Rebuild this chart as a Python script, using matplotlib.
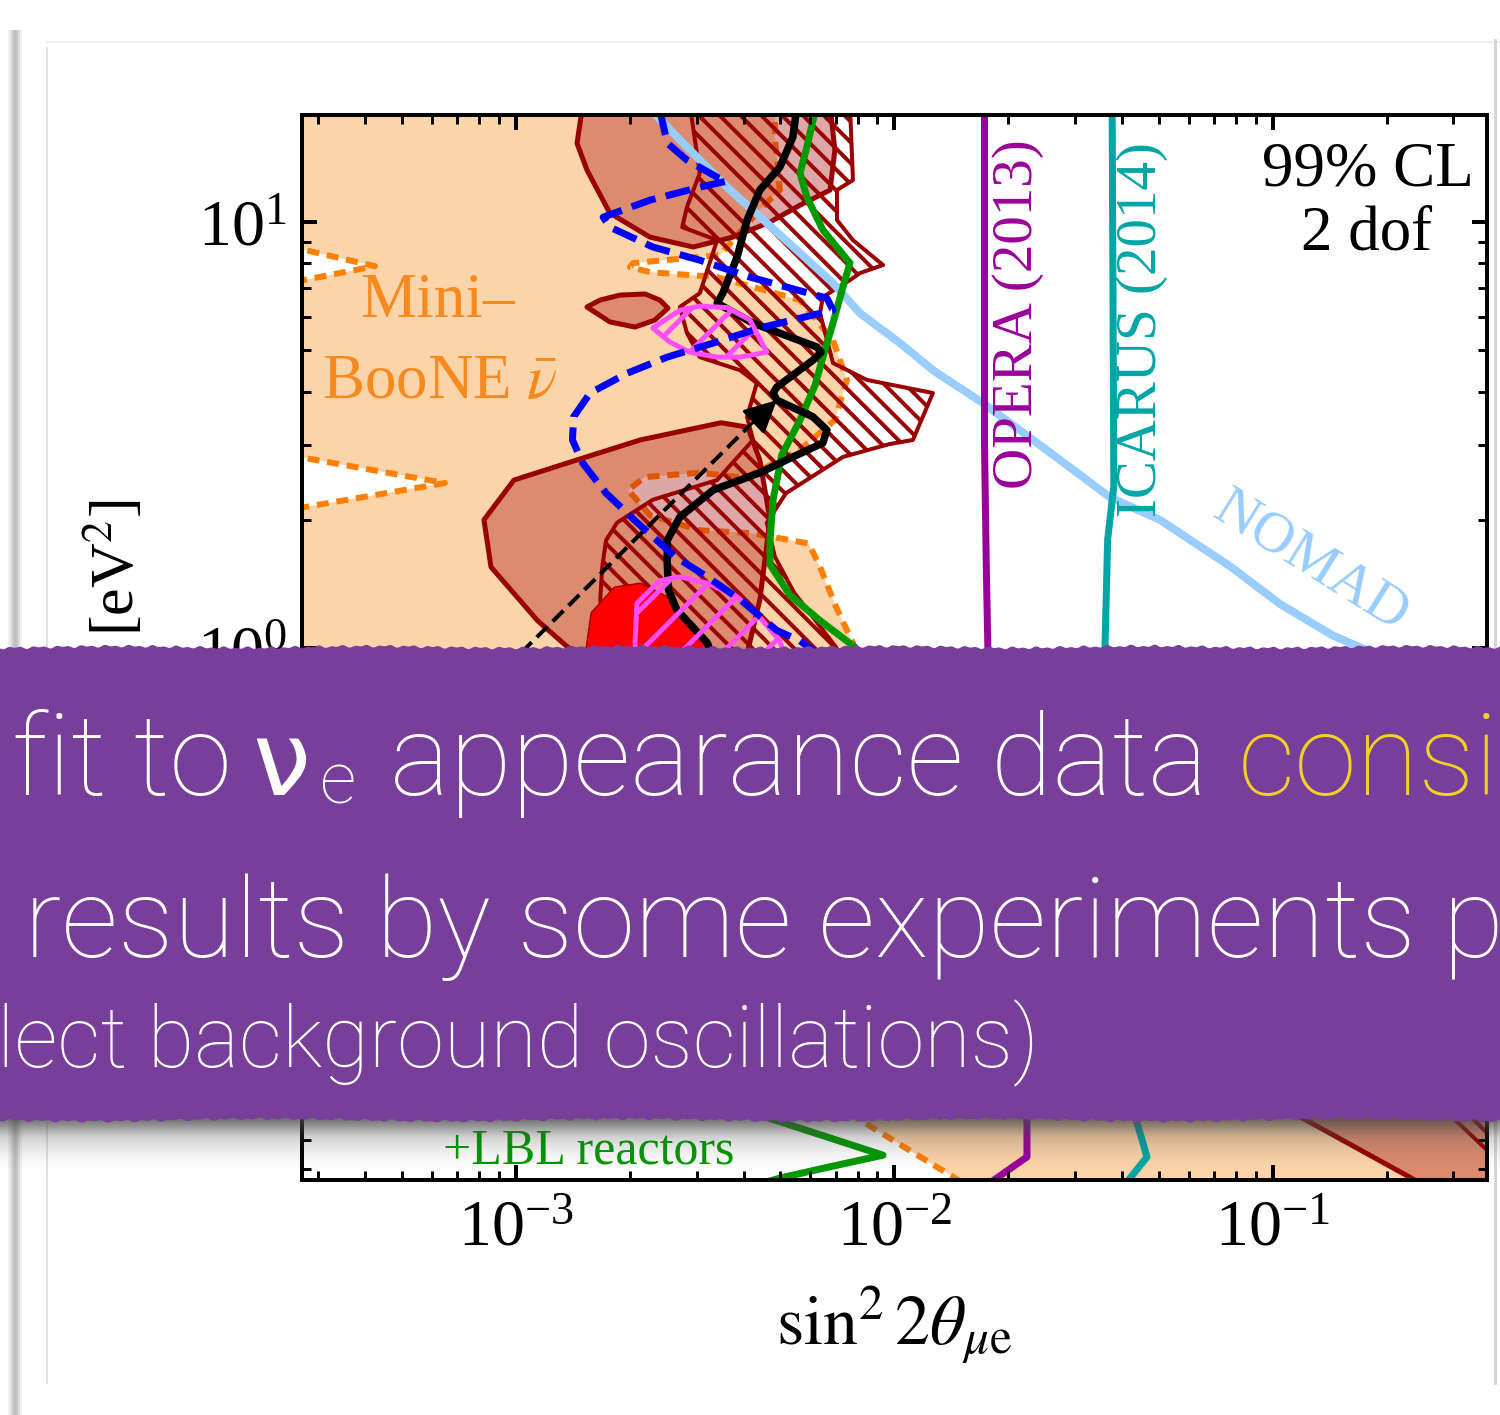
import numpy as np
import matplotlib
matplotlib.use("Agg")
import matplotlib.pyplot as plt
from matplotlib.patches import Polygon
from matplotlib.ticker import LogLocator, NullFormatter, FuncFormatter

DPI = 125
W, H = 1500, 1415


def pt(px):
    # sizes in pixels
    return px * 72.0 / DPI


ORANGE_FILL = "#FCD4A9"
ORANGE = "#FF8000"
DARK_RED = "#990000"
RED = "#FF0000"
PINK = "#FF4DFF"
BLUE = "#0000FF"
GREEN = "#009900"
NOMAD_C = "#99CCFF"
OPERA_C = "#990099"
ICARUS_C = "#00A5A5"
BANNER = "#773F99"
YELLOW = "#F3D027"

# ---- contours, (sin^2 2theta_mue, dm2_41 [eV^2]) ----
mb_sin2 = [2.5e-4, 4.83e-3, 4.83e-3, 4.98e-3, 4.41e-3, 3.46e-3, 2.04e-3, 2.0e-3, 2.26e-3, 3.40e-3,
           5.63e-3, 6.88e-3, 7.49e-3, 6.96e-3, 5.63e-3, 4.03e-3, 3.06e-3, 2.19e-3, 1.98e-3, 2.26e-3,
           3.06e-3, 4.20e-3, 5.94e-3, 6.36e-3, 7.01e-3, 7.86e-3, 1.1e-2, 2.0e-2, 5.0e-2, 0.4,
           0.4, 1.63e-2, 8.11e-3, 5.0e-3, 2.0e-3, 7.0e-4, 2.5e-4]
mb_dm2 = [20, 20, 15.8, 11.9, 10.7, 8.37, 8.01, 7.84, 7.63, 7.43,
          6.56, 5.28, 4.26, 3.43, 2.92, 2.51, 2.58, 2.52, 2.35, 2.05,
          1.89, 1.86, 1.76, 1.55, 1.25, 1.005, 0.65, 0.35, 0.22, 0.15,
          0.05, 0.0534, 0.078, 0.11, 0.2, 0.3, 0.4]

hole_a_sin2 = [2.5e-4, 4.24e-4, 2.5e-4]
hole_a_dm2 = [8.78, 7.88, 7.19]
hole_b_sin2 = [2.5e-4, 6.49e-4, 2.5e-4]
hole_b_dm2 = [2.84, 2.44, 2.11]

blob_top_sin2 = [1.50e-3, 1.45e-3, 1.54e-3, 1.77e-3, 2.26e-3, 2.94e-3, 3.74e-3, 4.69e-3, 5.63e-3, 6.76e-3, 6.96e-3, 6.76e-3]
blob_top_dm2 = [18.8, 15.3, 13.25, 10.5, 9.22, 8.74, 9.22, 10.0, 10.96, 11.89, 14.76, 18.8]

blob_leaf_sin2 = [1.54e-3, 1.667e-3, 1.883e-3, 2.193e-3, 2.40e-3, 2.521e-3, 2.329e-3, 2.063e-3, 1.771e-3]
blob_leaf_dm2 = [6.32, 6.56, 6.74, 6.78, 6.56, 6.28, 5.89, 5.67, 5.83]

blob_low_sin2 = [8.23e-4, 9.88e-4, 1.44e-3, 2.13e-3, 3.48e-3, 4.10e-3, 4.41e-3, 4.69e-3, 4.41e-3,
                 4.0e-3, 3.0e-3, 2.0e-3, 1.37e-3, 1.14e-3, 8.59e-4]
blob_low_dm2 = [2.00, 2.48, 2.76, 3.08, 3.38, 3.30, 2.76, 2.00, 1.30,
                0.9, 0.7, 0.8, 1.005, 1.16, 1.55]

blob_corner_sin2 = [0.0641, 0.1252, 0.2373, 0.27, 0.5, 0.5, 0.1]
blob_corner_dm2 = [0.1067, 0.0771, 0.0564, 0.05, 0.05, 0.2, 0.2]

hatch_sin2 = [2.88e-3, 7.63e-3, 7.77e-3, 7.05e-3, 7.05e-3, 7.77e-3, 9.33e-3, 8.11e-3, 7.63e-3, 6.47e-3,
              6.36e-3, 6.88e-3, 8.46e-3, 1.264e-2, 1.119e-2, 9.67e-3, 7.31e-3, 5.17e-3, 4.60e-3, 4.83e-3,
              5.43e-3, 7.01e-3, 8.0e-3, 7.0e-3, 5.0e-3, 3.0e-3, 2.0e-3, 1.72e-3, 1.67e-3, 1.69e-3,
              1.73e-3, 1.85e-3, 2.30e-3, 3.40e-3, 4.23e-3, 4.08e-3, 4.33e-3, 3.91e-3, 3.06e-3, 2.83e-3,
              2.71e-3, 3.06e-3, 3.40e-3, 2.75e-3, 2.83e-3, 3.06e-3]
hatch_dm2 = [18.8, 18.8, 12.55, 11.89, 10.11, 9.07, 7.93, 7.59, 7.31, 6.67,
             6.11, 4.67, 4.26, 3.97, 3.08, 3.01, 2.81, 2.31, 1.97, 1.64,
             1.35, 1.005, 0.8, 0.6, 0.55, 0.6, 0.8, 1.016, 1.30, 1.55,
             1.79, 1.97, 2.23, 2.48, 3.08, 3.49, 4.19, 4.49, 4.82, 5.49,
             6.32, 6.81, 9.07, 9.73, 10.85, 13.03]

hatch_corner_sin2 = [0.2848, 0.368, 0.5, 0.5, 0.25]
hatch_corner_dm2 = [0.0823, 0.0663, 0.066, 0.2, 0.2]

red_sin2 = [1.52e-3, 1.58e-3, 1.82e-3, 2.13e-3, 2.6e-3, 3.2e-3, 2.8e-3, 1.8e-3]
red_dm2 = [0.95, 1.21, 1.39, 1.42, 1.3, 1.0, 0.75, 0.75]

pink_top_sin2 = [2.30e-3, 2.71e-3, 3.06e-3, 3.61e-3, 4.15e-3, 4.60e-3, 3.91e-3, 3.40e-3, 2.88e-3, 2.55e-3]
pink_top_dm2 = [5.64, 6.21, 6.35, 6.30, 5.89, 4.95, 4.82, 4.82, 4.95, 5.23]
pink_low_sin2 = [2.063e-3, 2.088e-3, 2.40e-3, 2.71e-3, 3.20e-3, 3.84e-3, 4.41e-3, 4.98e-3, 5.3e-3, 4.2e-3, 2.8e-3, 2.1e-3]
pink_low_dm2 = [1.03, 1.275, 1.44, 1.47, 1.42, 1.32, 1.18, 1.04, 0.85, 0.68, 0.7, 0.85]

blue_sin2 = [2.40e-3, 2.51e-3, 2.83e-3, 3.40e-3, 3.61e-3, 3.06e-3, 2.26e-3, 1.70e-3, 1.77e-3, 2.30e-3,
             3.06e-3, 4.15e-3, 6.63e-3, 6.88e-3, 5.63e-3, 4.41e-3, 3.32e-3, 2.51e-3, 1.97e-3, 1.57e-3,
             1.42e-3, 1.41e-3, 1.50e-3, 1.73e-3, 2.09e-3, 2.63e-3, 3.20e-3, 3.91e-3, 4.89e-3, 5.63e-3,
             7.0e-3, 8.0e-3]
blue_dm2 = [18.3, 15.33, 13.98, 12.75, 12.48, 12.08, 11.26, 10.27, 9.73, 8.74,
            8.14, 7.43, 6.63, 6.21, 5.95, 5.64, 5.20, 4.82, 4.42, 3.97,
            3.49, 3.08, 2.72, 2.31, 1.97, 1.64, 1.47, 1.30, 1.10, 1.04,
            0.9, 0.7]

black_sin2 = [5.53e-3, 5.39e-3, 4.98e-3, 4.41e-3, 4.08e-3, 3.84e-3, 3.52e-3, 3.40e-3, 4.23e-3, 6.24e-3,
              6.40e-3, 6.09e-3, 4.89e-3, 4.78e-3, 4.89e-3, 6.09e-3, 6.63e-3, 6.47e-3, 5.39e-3, 4.41e-3,
              3.32e-3, 2.71e-3, 2.51e-3, 2.51e-3, 2.53e-3, 2.66e-3, 3.20e-3, 3.8e-3]
black_dm2 = [18.8, 15.83, 13.46, 11.89, 10.11, 8.28, 6.81, 6.45, 5.79, 5.09,
             4.95, 4.74, 4.10, 3.97, 3.82, 3.49, 3.25, 3.03, 2.81, 2.58,
             2.35, 2.03, 1.79, 1.58, 1.37, 1.23, 1.03, 0.7]

dash_sin2 = [7.0e-4, 4.10e-3]
dash_dm2 = [0.692, 3.30]
arrow_tip = (4.89e-3, 3.82)

green_sin2 = [6.24e-3, 5.87e-3, 5.63e-3, 5.87e-3, 6.47e-3, 7.63e-3, 7.31e-3, 6.88e-3, 6.55e-3, 6.17e-3,
              5.63e-3, 5.04e-3, 4.78e-3, 4.69e-3, 4.69e-3, 5.30e-3, 6.36e-3, 7.86e-3, 1.0e-2, 8.0e-3,
              4.0e-3, 3.06e-3, 4.83e-3, 9.33e-3, 6.71e-3, 4.98e-3, 3.91e-3]
green_dm2 = [19.0, 15.0, 13.03, 11.45, 9.58, 8.01, 7.04, 5.79, 5.01, 4.14,
             3.43, 2.84, 2.23, 1.79, 1.57, 1.33, 1.16, 1.005, 0.7, 0.3,
             0.12, 0.0898, 0.078, 0.0645, 0.0605, 0.057, 0.0534]

opera_sin2 = [0.0173, 0.0173, 0.0175, 0.0178, 0.0200, 0.0224, 0.0224, 0.0151]
opera_dm2 = [20, 3.0, 1.5, 0.7, 0.2, 0.077, 0.0639, 0.05]
icarus_sin2 = [0.0376, 0.0380, 0.0366, 0.0360, 0.0400, 0.0437, 0.0465, 0.0373]
icarus_dm2 = [20, 2.4, 1.8, 1.0, 0.2, 0.0771, 0.0639, 0.05]
nomad_sin2 = [2.13e-3, 2.30e-3, 2.83e-3, 3.61e-3, 4.60e-3, 5.63e-3, 6.88e-3, 8.11e-3, 1.034e-2, 1.264e-2,
              1.713e-2, 2.42e-2, 3.71e-2, 5.03e-2, 7.70e-2, 0.1043, 0.1441, 0.1772, 0.368, 0.5]
nomad_dm2 = [19.3, 18.13, 15.0, 12.08, 9.95, 8.46, 7.19, 6.11, 5.20, 4.49,
             3.76, 3.00, 2.26, 2.00, 1.557, 1.27, 1.07, 0.989, 0.678, 0.6]

# banner text pieces (visible part only) and their left edges in pixels
banner_line1 = ["fit to", "ν", "e", "appearance data", "consis"]
banner_line1_x = [12, 252, 320, 390, 1238]
banner_line2 = "results by some experiments p"
banner_line3 = "lect background oscillations)"

plt.rcParams["font.family"] = ["Liberation Serif", "DejaVu Serif"]
plt.rcParams["mathtext.fontset"] = "stix"


def xy(a, b):
    return np.column_stack([a, b])


def patch(ax, a, b, z, hatch_lw=None, **kw):
    if hatch_lw is not None:
        plt.rcParams["hatch.linewidth"] = hatch_lw
    p = Polygon(xy(a, b), closed=True, joinstyle="round", zorder=z, **kw)
    if hatch_lw is not None and hasattr(p, "set_hatch_linewidth"):
        p.set_hatch_linewidth(hatch_lw)
    ax.add_patch(p)
    return p


def decade_label(v, pos):
    # the 10^-1 label sits under the banner
    if v < 0.5:
        return ""
    return r"$\mathdefault{10^{%d}}$" % int(round(np.log10(v)))


fig = plt.figure(figsize=(W / DPI, H / DPI), dpi=DPI)

# page / card decoration
bg = fig.add_axes([0, 0, 1, 1], zorder=-5)
bg.set_xlim(0, W)
bg.set_ylim(H, 0)
bg.axis("off")
for x, c in [(9, "#f0f0f0"), (11, "#e0e0e0"), (13, "#cccccc"), (15, "#bdbdbd"),
             (17, "#c4c4c4"), (19, "#dadada"), (21, "#efefef")]:
    bg.plot([x, x], [30, H], color=c, lw=pt(2.2), solid_capstyle="butt")
bg.plot([47, 47], [48, 1383], color="#d8d8d8", lw=pt(1.5))
bg.plot([47, W], [42, 42], color="#f0f0f0", lw=pt(2))
bg.plot([1495, 1495], [40, 1383], color="#d6d6d6", lw=pt(3))

# main panel
ax = fig.add_axes([302 / W, 1 - 1180 / H, 1185 / W, 1065 / H])
ax.set_xscale("log")
ax.set_yscale("log")
ax.set_xlim(2.72e-4, 0.368)
ax.set_ylim(0.0564, 17.84)

patch(ax, mb_sin2, mb_dm2, 1.0, facecolor=ORANGE_FILL, edgecolor="none")
for a, b in [(hole_a_sin2, hole_a_dm2), (hole_b_sin2, hole_b_dm2)]:
    patch(ax, a, b, 1.1, facecolor="white", edgecolor="none")
    ax.plot(a, b, color=ORANGE, lw=pt(6), ls=(0, (2, 1.3)), zorder=1.2)
ax.plot(mb_sin2 + mb_sin2[:1], mb_dm2 + mb_dm2[:1], color=ORANGE, lw=pt(6),
        ls=(0, (2, 1.3)), zorder=1.2)

for a, b in [(blob_top_sin2, blob_top_dm2), (blob_leaf_sin2, blob_leaf_dm2),
             (blob_low_sin2, blob_low_dm2), (blob_corner_sin2, blob_corner_dm2)]:
    patch(ax, a, b, 1.3, facecolor=(0.63, 0.0, 0.0, 0.34), edgecolor=DARK_RED, lw=pt(5))

patch(ax, hatch_sin2, hatch_dm2, 1.4, hatch_lw=pt(4), facecolor="none",
      edgecolor=DARK_RED, hatch="\\\\", lw=pt(4))
patch(ax, hatch_corner_sin2, hatch_corner_dm2, 1.4, hatch_lw=pt(4), facecolor="none",
      edgecolor=DARK_RED, hatch="\\\\", lw=pt(4))
patch(ax, red_sin2, red_dm2, 1.5, facecolor=RED, edgecolor="#aa0000", lw=pt(1.5))

ax.plot(nomad_sin2, nomad_dm2, color=NOMAD_C, lw=pt(8), zorder=1.6, solid_joinstyle="round")
ax.plot(opera_sin2, opera_dm2, color=OPERA_C, lw=pt(7), zorder=1.6, solid_joinstyle="round")
ax.plot(icarus_sin2, icarus_dm2, color=ICARUS_C, lw=pt(7), zorder=1.6, solid_joinstyle="round")
ax.plot(green_sin2, green_dm2, color=GREEN, lw=pt(7), zorder=1.7, solid_joinstyle="round")
ax.plot(black_sin2, black_dm2, color="black", lw=pt(7.5), zorder=1.8, solid_joinstyle="round")
ax.plot(dash_sin2, dash_dm2, color="black", lw=pt(4), ls=(0, (3.8, 1.8)), zorder=1.8)
ax.annotate("", xy=arrow_tip, xytext=(dash_sin2[-1], dash_dm2[-1]), zorder=1.8,
            arrowprops=dict(arrowstyle="-|>", color="black", lw=pt(3),
                            mutation_scale=pt(70), shrinkA=0, shrinkB=0))

for a, b in [(pink_top_sin2, pink_top_dm2), (pink_low_sin2, pink_low_dm2)]:
    patch(ax, a, b, 1.9, hatch_lw=pt(5), facecolor="none", edgecolor=PINK, hatch="/", lw=pt(5))

ax.plot(blue_sin2, blue_dm2, color=BLUE, lw=pt(7), ls=(0, (3.6, 1.5)), zorder=2.0)

# labels inside the panel
fx = lambda px: (px - 302) / 1185
fy = lambda py: (1180 - py) / 1065
ax.text(fx(1368), fy(185), "99% CL", transform=ax.transAxes, ha="center", va="baseline",
        fontsize=pt(63), zorder=3)
ax.text(fx(1367), fy(250), "2 dof", transform=ax.transAxes, ha="center", va="baseline",
        fontsize=pt(63), zorder=3)
ax.text(fx(437), fy(317), "Mini–", transform=ax.transAxes, ha="center", va="baseline",
        fontsize=pt(63), color="#F7891F", zorder=3)
ax.text(fx(440), fy(398), r"BooNE $\bar{\nu}$", transform=ax.transAxes, ha="center",
        va="baseline", fontsize=pt(63), color="#F7891F", zorder=3)
ax.text(fx(1018), fy(314), "OPERA (2013)", transform=ax.transAxes, ha="center", va="center",
        rotation=90, fontsize=pt(57), color=OPERA_C, zorder=3)
ax.text(fx(1142), fy(330), "ICARUS (2014)", transform=ax.transAxes, ha="center", va="center",
        rotation=90, fontsize=pt(57), color=ICARUS_C, zorder=3)
ax.text(fx(1311), fy(562), "NOMAD", transform=ax.transAxes, ha="center", va="center",
        rotation=-32, fontsize=pt(58), color=NOMAD_C, zorder=3)
ax.text(fx(443), fy(1163), "+LBL reactors", transform=ax.transAxes, ha="left", va="baseline",
        fontsize=pt(50), color=GREEN, zorder=3)

for s in ax.spines.values():
    s.set_linewidth(pt(4))
    s.set_zorder(20)
ax.xaxis.set_zorder(20)
ax.yaxis.set_zorder(20)
for axis in (ax.xaxis, ax.yaxis):
    axis.set_major_locator(LogLocator(base=10, numticks=10))
    axis.set_minor_locator(LogLocator(base=10, subs=np.arange(2, 10), numticks=30))
    axis.set_minor_formatter(NullFormatter())
ax.yaxis.set_major_formatter(FuncFormatter(decade_label))
ax.tick_params(which="both", direction="in", top=True, right=True)
ax.tick_params(which="major", length=pt(15), width=pt(4), labelsize=pt(66))
ax.tick_params(which="minor", length=pt(9), width=pt(3))
ax.tick_params(axis="x", which="major", pad=pt(19))
ax.tick_params(axis="y", which="major", pad=pt(15))

# only the unit of the y title shows above the banner
ax.set_ylabel(r"[eV$^2$]", fontsize=pt(62))
ax.yaxis.label.set_ha("right")
ax.yaxis.set_label_coords(fx(147), fy(500))
ax.set_xlabel(r"$\sin^2 2\theta_{\mu\mathrm{e}}$", fontsize=pt(70))
ax.xaxis.set_label_coords(0.5, fy(1284))

# purple banner over the slide
ov = fig.add_axes([0, 0, 1, 1], zorder=10)
ov.set_xlim(0, W)
ov.set_ylim(H, 0)
ov.axis("off")
ov.patch.set_alpha(0)

xs = np.linspace(-5, W + 5, 900)
top_edge = 647 + 0.8 * np.sin(xs / 1.9) + 0.7 * np.sin(xs / 3.7 + 0.7) + 0.9 * np.sin(xs / 41.0 + 1.9)
bot_edge = 1120 + 0.8 * np.sin(xs / 2.1 + 0.4) + 0.7 * np.sin(xs / 4.3 + 1.3) + 1.2 * np.sin(xs / 57.0)

shade = np.zeros((60, 1, 4))
shade[:, 0, :3] = 0.28
prof = np.linspace(0, 1, 60)
shade[:, 0, 3] = np.where(prof < 0.35, 0.85 - 0.6 * prof / 0.35, 0.25 * (1 - (prof - 0.35) / 0.65) ** 2)
ov.imshow(shade, extent=(0, W, 1176, 1116), aspect="auto", zorder=1, interpolation="bilinear")
ov.fill_between(xs, top_edge, bot_edge, color=BANNER, lw=0, zorder=2)

BANNER_FONT = ["Roboto", "DejaVu Sans"]


def put(x, y, s, size, color, weight="light", family=None):
    ov.text(x, y, s, fontsize=pt(size), color=color, family=family or BANNER_FONT,
            fontweight=weight, ha="left", va="baseline", zorder=3)


put(banner_line1_x[0], 795, banner_line1[0], 113, "white")
put(banner_line1_x[1], 795, banner_line1[1], 104, "white", weight="normal",
    family=["DejaVu Sans"])
put(banner_line1_x[2], 803, banner_line1[2], 72, "white")
put(banner_line1_x[3], 795, banner_line1[3], 113, "white")
put(banner_line1_x[4], 795, banner_line1[4], 113, YELLOW)
put(24, 957, banner_line2, 112, "white")
put(-3, 1067, banner_line3, 85, "white")

fig.savefig("out.png", dpi=DPI)
